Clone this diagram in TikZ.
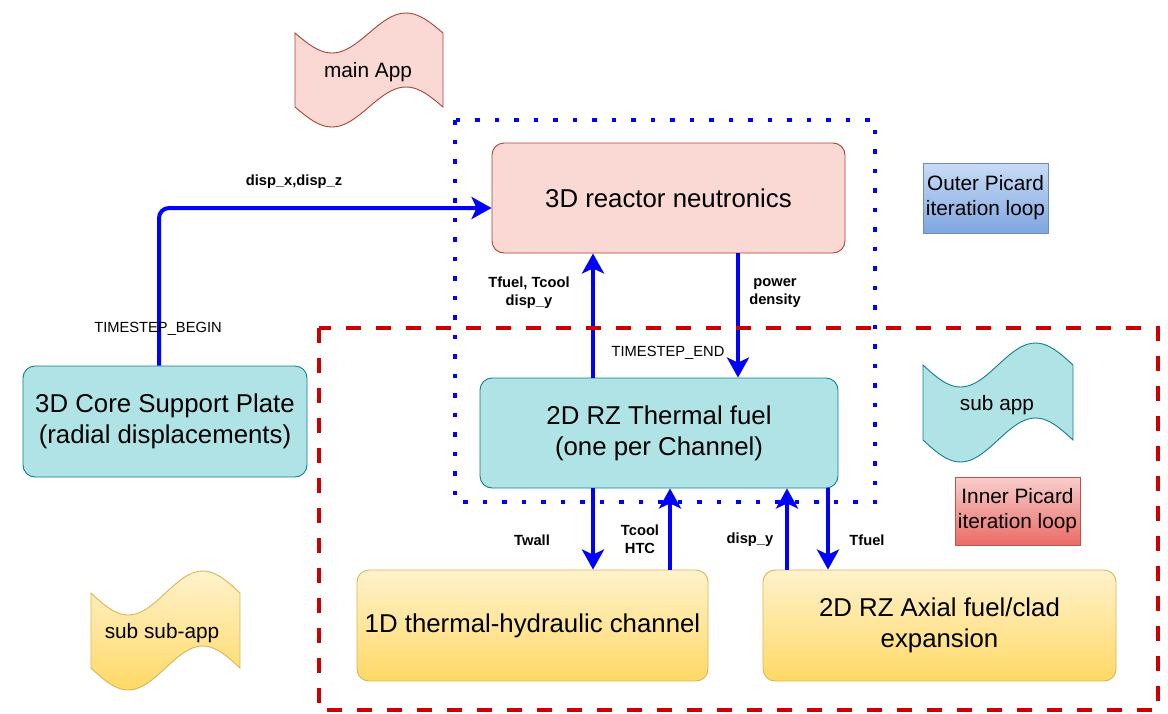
\documentclass[tikz,border=0pt]{standalone}
\usepackage{fontspec}
\setmainfont{Liberation Sans}
\usetikzlibrary{arrows.meta}
\definecolor{pinkfill}{HTML}{FAD9D5}
\definecolor{pinkdraw}{HTML}{AE4132}
\definecolor{tealfill}{HTML}{B0E3E6}
\definecolor{tealdraw}{HTML}{0E8088}
\definecolor{yeltop}{HTML}{FFF2CC}
\definecolor{yelbot}{HTML}{FFD966}
\definecolor{yeldraw}{HTML}{D6B656}
\definecolor{bluetop}{HTML}{C9DCF6}
\definecolor{bluebot}{HTML}{7EA6E0}
\definecolor{bluedraw}{HTML}{6C8EBF}
\definecolor{redtop}{HTML}{F8CECC}
\definecolor{redbot}{HTML}{EA6B66}
\definecolor{reddraw}{HTML}{B85450}
\definecolor{arrowblue}{HTML}{0000FF}
\definecolor{dashred}{HTML}{CC0000}
\newcommand\fbig{\fontsize{25.8}{31}\selectfont}
\newcommand\fmid{\fontsize{20.8}{25}\selectfont}
\newcommand\fsmall{\fontsize{14.7}{18}\selectfont}
\newcommand\tapeshape[6]{\path[#1] plot[domain=0:1,samples=41] ({#2+#3*\x},{#4+#6*sin(360*\x)}) -- plot[domain=1:0,samples=41] ({#2+#3*\x},{#5+#6*sin(360*\x)}) -- cycle;}
\begin{document}
\begin{tikzpicture}[x=1pt,y=-1pt,
  appbox/.style={rounded corners=12pt, line width=0.9pt, align=center, inner sep=0pt, font=\fbig},
  pinkbox/.style={appbox, fill=pinkfill, draw=pinkdraw},
  tealbox/.style={appbox, fill=tealfill, draw=tealdraw},
  yelbox/.style={appbox, top color=yeltop, bottom color=yelbot, draw=yeldraw},
  legendbox/.style={line width=0.8pt, align=center, inner sep=0pt, font=\fmid, minimum width=125pt},
  flow/.style={draw=arrowblue, line width=4pt, -{Stealth[length=20pt,width=22pt,inset=5pt]}},
  lbl/.style={font=\fsmall\bfseries, align=center, inner sep=0pt},
  plainlbl/.style={font=\fsmall, align=center, inner sep=0pt},
  wavelbl/.style={font=\fmid, inner sep=0pt}]
\useasboundingbox (0,0) rectangle (1168,713);

% wave legend shapes
\tapeshape{fill=pinkfill, draw=pinkdraw, line width=0.9pt}{295}{148}{33}{107}{20}
\node[wavelbl] (mainapp) at (368,72) {main App};
\tapeshape{fill=tealfill, draw=tealdraw, line width=0.9pt}{923}{150}{365}{440}{22}
\node[wavelbl] (subapp) at (997,405) {sub app};
\tapeshape{top color=yeltop, bottom color=yelbot, draw=yeldraw, line width=0.9pt}{91}{149}{593}{668}{22}
\node[wavelbl] (subsubapp) at (162,633) {sub sub-app};

% legend boxes
\node[legendbox, top color=bluetop, bottom color=bluebot, draw=bluedraw, minimum height=70pt] (outer) at (985.5,198) {Outer Picard\\iteration loop};
\node[legendbox, top color=redtop, bottom color=redbot, draw=reddraw, minimum height=68pt] (inner) at (1017.5,511) {Inner Picard\\iteration loop};

% application nodes
\node[pinkbox, minimum width=353pt, minimum height=110pt] (reactor) at (668.5,198) {3D reactor neutronics};
\node[tealbox, minimum width=284pt, minimum height=111pt] (core) at (165,421.5) {3D Core Support Plate\\(radial displacements)};
\node[tealbox, minimum width=358pt, minimum height=110pt] (thermal) at (659,433) {2D RZ Thermal fuel\\(one per Channel)};
\node[yelbox, minimum width=351pt, minimum height=111pt] (channel) at (532.5,625.5) {1D thermal-hydraulic channel};
\node[yelbox, minimum width=353pt, minimum height=111pt] (axial) at (939.5,625.5) {2D RZ Axial fuel/clad\\expansion};

% helper coordinates for connector positions
\coordinate (xcore) at (159,0);
\coordinate (ydisp) at (0,208);
\coordinate (xa) at (593,0);
\coordinate (xb) at (738,0);
\coordinate (xc) at (670,0);
\coordinate (xd) at (787,0);
\coordinate (xe) at (828,0);

% connectors
\draw[flow, rounded corners=10pt] (core.north -| xcore) |- (reactor.west |- ydisp);
\draw[flow] (thermal.north -| xa) -- (reactor.south -| xa);
\draw[flow] (reactor.south -| xb) -- (thermal.north -| xb);
\draw[flow] (thermal.south -| xa) -- (channel.north -| xa);
\draw[flow] (channel.north -| xc) -- (thermal.south -| xc);
\draw[flow] (axial.north -| xd) -- (thermal.south -| xd);
\draw[flow] (thermal.south -| xe) -- (axial.north -| xe);

% connector labels
\node[lbl] (l1) at (294,182) {disp\_x,disp\_z};
\node[plainlbl] (l2) at (158,329) {TIMESTEP\_BEGIN};
\node[lbl] (l3) at (529,293) {Tfuel, Tcool\\disp\_y};
\node[lbl] (l4) at (775,293) {power\\density};
\node[plainlbl] (l5) at (668,353) {TIMESTEP\_END};
\node[lbl] (l6) at (532,540) {Twall};
\node[lbl] (l7) at (640,539) {Tcool\\HTC};
\node[lbl] (l8) at (750,540) {disp\_y};
\node[lbl] (l9) at (867,540) {Tfuel};

% loop frames
\draw[draw=dashred, line width=4.5pt, dash pattern=on 15pt off 15pt] (319,328) rectangle (1158,710);
\draw[draw=arrowblue, line width=4.5pt, dash pattern=on 4.5pt off 15pt] (455,120) rectangle (875,502);
\end{tikzpicture}
\end{document}
